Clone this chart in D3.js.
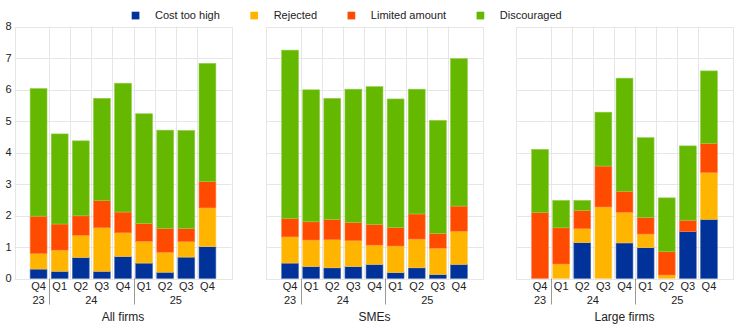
<!DOCTYPE html>
<html>
<head>
<meta charset="utf-8">
<script src="https://cdn.jsdelivr.net/npm/d3@7"></script>
<style>
  html, body { margin: 0; padding: 0; background: #fff; }
  svg { display: block; font-family: "Liberation Sans", Arial, sans-serif; }
</style>
</head>
<body>
<svg id="chart" width="740" height="330"></svg>
<script>
// ---- Data ----
const quarters = ["Q4", "Q1", "Q2", "Q3", "Q4", "Q1", "Q2", "Q3", "Q4"];
const yearLabels = ["23", "24", "25"];
const yearStart = [0, 1, 5];   // first quarter index of each year
const yearEnd = [0, 4, 8];     // last quarter index of each year
const panelTitles = ["All firms", "SMEs", "Large firms"];
const seriesNames = ["Cost too high", "Rejected", "Limited amount", "Discouraged"];
const seriesColors = ["#003299", "#FFB400", "#FF4B00", "#65B800"];
const yTicks = [0, 1, 2, 3, 4, 5, 6, 7, 8];

// All firms
const allCost       = [0.30, 0.23, 0.67, 0.23, 0.70, 0.49, 0.20, 0.68, 1.01];
const allRejected   = [0.49, 0.67, 0.70, 1.38, 0.75, 0.69, 0.63, 0.49, 1.23];
const allLimited    = [1.19, 0.83, 0.62, 0.86, 0.66, 0.57, 0.76, 0.42, 0.84];
const allDiscour    = [4.05, 2.86, 2.38, 3.25, 4.09, 3.48, 3.12, 3.11, 3.75];
// SMEs
const smeCost       = [0.49, 0.38, 0.34, 0.38, 0.45, 0.19, 0.34, 0.13, 0.45];
const smeRejected   = [0.83, 0.84, 0.89, 0.82, 0.61, 0.84, 0.91, 0.83, 1.05];
const smeLimited    = [0.59, 0.58, 0.65, 0.58, 0.66, 0.59, 0.80, 0.47, 0.80];
const smeDiscour    = [5.34, 4.19, 3.84, 4.23, 4.37, 4.08, 3.96, 3.59, 4.68];
// Large firms
const largeCost     = [0.00, 0.00, 1.14, 0.00, 1.13, 0.98, 0.00, 1.49, 1.88];
const largeRejected = [0.00, 0.46, 0.44, 2.27, 0.97, 0.43, 0.11, 0.00, 1.48];
const largeLimited  = [2.09, 1.15, 0.58, 1.30, 0.67, 0.53, 0.74, 0.36, 0.93];
const largeDiscour  = [2.01, 0.87, 0.32, 1.71, 3.59, 2.53, 1.71, 2.36, 2.30];

const panelData = [
  [allCost, allRejected, allLimited, allDiscour],
  [smeCost, smeRejected, smeLimited, smeDiscour],
  [largeCost, largeRejected, largeLimited, largeDiscour]
];

// ---- Layout ----
const svg = d3.select("#chart");
const panelX = [14.5, 266, 516];
const panelW = 217;
const yTop = 26.5, yBottom = 278.5;
const y = d3.scaleLinear().domain([0, 8]).range([yBottom, yTop]);
const gridColor = "#e6e6e6";
const textColor = "#222";

panelData.forEach((seriesArr, p) => {
  const x0 = panelX[p];
  const x = d3.scaleBand().domain(d3.range(quarters.length))
    .range([x0, x0 + panelW]).paddingInner(0.2).paddingOuter(0.74);
  const gap = (x.step() - x.bandwidth()) / 2;
  const g = svg.append("g");

  // horizontal grid
  g.selectAll(".hg").data(yTicks).join("line")
    .attr("x1", x0).attr("x2", x0 + panelW)
    .attr("y1", d => Math.round(y(d)) + 0.5).attr("y2", d => Math.round(y(d)) + 0.5)
    .attr("stroke", gridColor).attr("stroke-width", 1);
  // vertical grid between categories
  g.selectAll(".vg").data(d3.range(1, quarters.length)).join("line")
    .attr("x1", d => Math.round(x(d) - gap) + 0.5).attr("x2", d => Math.round(x(d) - gap) + 0.5)
    .attr("y1", y(8)).attr("y2", y(0))
    .attr("stroke", gridColor).attr("stroke-width", 1);
  // frame
  g.append("rect").attr("x", Math.round(x0) + 0.5).attr("y", Math.round(y(8)) + 0.5)
    .attr("width", panelW).attr("height", y(0) - y(8))
    .attr("fill", "none").attr("stroke", gridColor);

  // stacked bars
  const rows = quarters.map((q, i) => {
    const r = { i };
    seriesNames.forEach((s, k) => { r[s] = seriesArr[k][i]; });
    return r;
  });
  const stacked = d3.stack().keys(seriesNames)(rows);
  stacked.forEach((layer, k) => {
    g.append("g").selectAll("rect").data(layer.filter(d => d[1] - d[0] > 0)).join("rect")
      .attr("x", d => x(d.data.i))
      .attr("width", x.bandwidth())
      .attr("y", d => y(d[1]))
      .attr("height", d => Math.max(0, y(d[0]) - y(d[1])))
      .attr("fill", seriesColors[k])
      .attr("stroke", d3.interpolateRgb(seriesColors[k], "#ffffff")(0.3))
      .attr("stroke-width", 0.6);
  });

  // y-axis labels only on first panel
  if (p === 0) {
    g.selectAll(".yl").data(yTicks).join("text")
      .attr("x", x0 - 3).attr("y", d => y(d))
      .attr("dy", "0.35em").attr("text-anchor", "end")
      .attr("font-size", 11).attr("fill", textColor)
      .text(d => d);
  }

  // quarter labels
  g.selectAll(".ql").data(quarters).join("text")
    .attr("x", (d, i) => x(i) + x.bandwidth() / 2).attr("y", 289.5)
    .attr("text-anchor", "middle").attr("font-size", 11).attr("fill", textColor)
    .text(d => d);

  // year labels
  g.selectAll(".yr").data(yearLabels).join("text")
    .attr("x", (d, k) => (x(yearStart[k]) + x(yearEnd[k]) + x.bandwidth()) / 2)
    .attr("y", 303.5)
    .attr("text-anchor", "middle").attr("font-size", 11).attr("fill", textColor)
    .text(d => d);

  // year separators
  g.selectAll(".ys").data(yearStart.slice(1)).join("line")
    .attr("x1", d => Math.round(x(d) - gap) + 0.5).attr("x2", d => Math.round(x(d) - gap) + 0.5)
    .attr("y1", y(0)).attr("y2", 304.5)
    .attr("stroke", "#999").attr("stroke-width", 1);

  // panel title
  g.append("text")
    .attr("x", x0 + panelW / 2).attr("y", 320.5)
    .attr("text-anchor", "middle").attr("font-size", 12).attr("fill", textColor)
    .text(panelTitles[p]);
});

// ---- Legend ----
const legend = svg.append("g");
let lx = 131.7;
seriesNames.forEach((s, k) => {
  legend.append("rect").attr("x", lx).attr("y", 11.7).attr("width", 7.7).attr("height", 7.7)
    .attr("fill", seriesColors[k]);
  const t = legend.append("text").attr("x", lx + 23.3).attr("y", 15.5)
    .attr("dy", "0.35em").attr("font-size", 11).attr("fill", textColor).text(s);
  lx = lx + 23.3 + t.node().getComputedTextLength() + 30.5;
});
</script>
</body>
</html>
